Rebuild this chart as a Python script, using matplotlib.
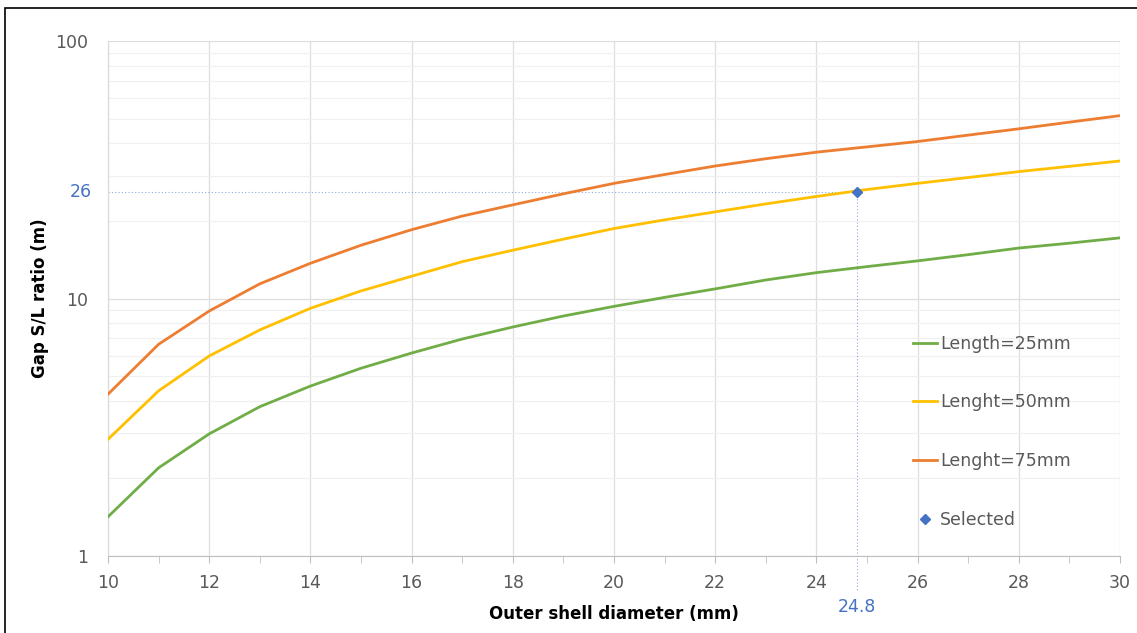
import matplotlib
matplotlib.use("Agg")
import matplotlib.pyplot as plt
from matplotlib.patches import Rectangle
from matplotlib.ticker import FixedLocator, NullFormatter

# diameter (mm)
diameter = list(range(10, 31))

# gap S/L ratio for each length
len25 = [1.42, 2.20, 2.98, 3.80, 4.57, 5.36, 6.14, 6.96, 7.75, 8.55, 9.32,
         10.1, 10.9, 11.8, 12.6, 13.3, 14.0, 14.8, 15.7, 16.4, 17.2]
len50 = [2.84, 4.38, 5.98, 7.55, 9.16, 10.7, 12.2, 13.9, 15.4, 17.0, 18.7,
         20.2, 21.7, 23.3, 24.9, 26.5, 28.0, 29.5, 31.1, 32.6, 34.2]
len75 = [4.25, 6.64, 8.94, 11.4, 13.7, 16.1, 18.5, 20.9, 23.1, 25.5, 28.0,
         30.3, 32.7, 34.9, 37.0, 38.8, 40.7, 43.1, 45.6, 48.4, 51.3]

sel_x = 24.8
sel_y = 26

blue = '#4472C4'
grey_txt = '#595959'

fig = plt.figure(figsize=(11.37, 6.33), dpi=100)
ax = fig.add_axes([108 / 1137, 1 - 556 / 633, (1120 - 108) / 1137, (556 - 41) / 633])

ax.plot(diameter, len25, color='#70AD47', lw=2, label='Length=25mm', zorder=3)
ax.plot(diameter, len50, color='#FFC000', lw=2, label='Lenght=50mm', zorder=3)
ax.plot(diameter, len75, color='#ED7D31', lw=2, label='Lenght=75mm', zorder=3)
ax.plot([sel_x], [sel_y], marker='D', color=blue, ms=5.5, ls='none', label='Selected', zorder=4)

# guide lines to the selected point
ax.plot([10, sel_x], [sel_y, sel_y], color=blue, lw=0.8, ls=(0, (1, 2)), alpha=0.6, zorder=2)
ax.plot([sel_x, sel_x], [sel_y, 0.74], color=blue, lw=0.8, ls=(0, (1, 2)), alpha=0.6,
        zorder=2, clip_on=False)

ax.set_yscale('log')
ax.set_xlim(10, 30)
ax.set_ylim(1, 100)

ax.xaxis.set_major_locator(FixedLocator(range(10, 31, 2)))
ax.xaxis.set_minor_locator(FixedLocator(range(11, 30, 2)))
ax.yaxis.set_major_locator(FixedLocator([1, 10, 100]))
ax.yaxis.set_major_formatter(plt.FuncFormatter(lambda v, p: f'{v:g}'))
ax.yaxis.set_minor_formatter(NullFormatter())

ax.grid(True, which='major', color='#DEDEDE', lw=0.9)
ax.grid(True, which='minor', axis='y', color='#F0F0F0', lw=0.9)
ax.set_axisbelow(True)

for s in ['top', 'right']:
    ax.spines[s].set_visible(False)
ax.spines['left'].set_color('#D9D9D9')
ax.spines['bottom'].set_color('#BFBFBF')

ax.tick_params(axis='x', which='both', direction='out', length=5, color='#BFBFBF',
               labelsize=12.5, labelcolor=grey_txt, pad=8)
ax.tick_params(axis='y', which='both', length=0, labelsize=12.5, labelcolor=grey_txt, pad=14)

ax.text(-0.016, sel_y, '26', transform=ax.get_yaxis_transform(), ha='right', va='center',
        color=blue, fontsize=12.5)
ax.text(sel_x, -0.1, '24.8', transform=ax.get_xaxis_transform(), ha='center', va='center',
        color=blue, fontsize=12.5)

ax.set_xlabel('Outer shell diameter (mm)', fontsize=12, fontweight='bold', labelpad=9)
ax.set_ylabel('Gap S/L ratio (m)', fontsize=12, fontweight='bold', labelpad=5)

leg = ax.legend(loc='lower left', bbox_to_anchor=(0.78, 0.022), frameon=False,
                fontsize=12.5, labelspacing=2.35, handlelength=1.4, handletextpad=0.15)
for t in leg.get_texts():
    t.set_color(grey_txt)

fig.patches.append(Rectangle((5 / 1137, -0.05), 1.2, (633 - 8) / 633 + 0.05,
                             transform=fig.transFigure, fill=False, ec='black', lw=1.2))

fig.savefig('out.png', dpi=100)
